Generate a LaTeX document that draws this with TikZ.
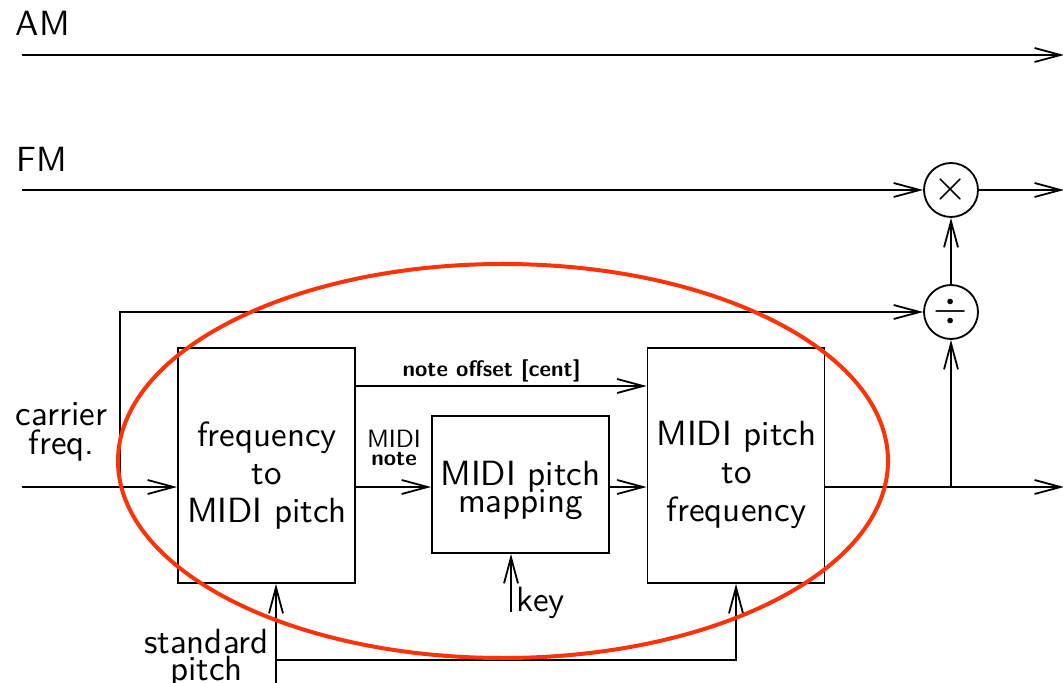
\documentclass[tikz,border=0pt]{standalone}
\usepackage{fix-cm}
\usepackage{fontspec}
\setsansfont{lmsans10-regular}[Extension=.otf, BoldFont=lmsans10-bold]
\usepackage{tikz}
\usetikzlibrary{arrows.meta}
\definecolor{MarkRed}{RGB}{252,50,8}

\tikzset{
  block/.style={draw, inner sep=0pt, minimum width=88.5pt},
  blocktxt/.style={align=center, inner sep=0pt,
    font=\sffamily\fontsize{17.5}{19}\selectfont},
  op/.style={draw, circle, minimum size=27pt, inner sep=0pt,
    font=\fontsize{22}{24}\selectfont},
  biglbl/.style={inner sep=0pt, font=\sffamily\fontsize{17.5}{20}\selectfont},
  sidelbl/.style={align=center, inner sep=0pt,
    font={\sffamily\fontsize{17.5}{14.5}\selectfont\lineskiplimit-20pt}},
  smalllbl/.style={align=center, inner sep=0pt,
    font={\sffamily\bfseries\fontsize{11.2}{9}\selectfont\lineskiplimit-20pt}}
}

\begin{document}
\begin{tikzpicture}[x=0.5pt, y=-0.5pt, line width=0.9pt,
  >={Straight Barb[length=13pt,width=7pt]}]
\useasboundingbox (0,0) rectangle (1063,683);

% AM and FM paths
\node[biglbl, anchor=base west] (amlbl) at (15,36) {AM};
\node[biglbl, anchor=base west] (fmlbl) at (16,172) {FM};
\coordinate (amin) at (22,55);
\coordinate (amout) at (1064,55);
\coordinate (fmin) at (22,190);
\coordinate (fmout) at (1064,190);
\draw[->] (amin) -- (amout);

% Operators
\node[op] (mul) at (951,190) {$\times$};
\node[op] (div) at (951,312) {$\div$};
\draw[->] (fmin) -- (mul);
\draw[->] (mul) -- (fmout);
\draw[->] (div) -- (mul);

% Blocks
\node[block, minimum height=117.5pt] (f2m) at (266.5,465.5) {};
\node[block, minimum height=68.5pt] (map) at (520.5,484.5) {};
\node[block, minimum height=117.5pt] (m2f) at (736,465.5) {};
\node[blocktxt] (f2mtxt) at (267,476) {frequency\\to\\MIDI pitch};
\node[blocktxt, font={\sffamily\fontsize{17.5}{13.5}\selectfont\lineskiplimit-20pt}]
  (maptxt) at (520.5,490) {MIDI pitch\\mapping};
\node[blocktxt] (m2ftxt) at (736.5,475) {MIDI pitch\\to\\frequency};

% Carrier frequency input
\node[sidelbl] (cflbl) at (61.5,432) {carrier\\freq.};
\coordinate (cin) at (22,487);
\coordinate (tap) at (120,487);
\coordinate (cout) at (1064,487);
\draw[->] (cin) -- (cin -| f2m.west);
\draw[->] (tap) |- (div);

% Signal chain
\coordinate (offs) at (355,386);
\draw[->] (offs -| f2m.east) -- (offs -| m2f.west);
\node[smalllbl, anchor=base] (offlbl) at (491.5,377) {note offset [cent]};
\draw[->] (cin -| f2m.east) -- (cin -| map.west);
\node[smalllbl] (notelbl) at (394,448) {{\mdseries\fontsize{12.5}{9}\selectfont MIDI}\\note};
\draw[->] (cin -| map.east) -- (cin -| m2f.west);
\draw[->] (cin -| m2f.east) -- (cout);
\draw[->] (cin -| div) -- (div);

% Key input
\coordinate (key) at (511,612);
\draw[->] (key) -- (key |- map.south);
\node[biglbl, anchor=base west] (keylbl) at (516,611) {key};

% Standard pitch
\coordinate (sp) at (276,690);
\coordinate (spbend) at (276,660);
\draw[->] (sp) -- (sp |- f2m.south);
\draw[->] (spbend) -| (m2f.south);
\node[sidelbl, font={\sffamily\fontsize{17.5}{13.5}\selectfont\lineskiplimit-20pt}]
  (splbl) at (206.5,658) {standard\\pitch};

% Highlight
\draw[MarkRed, line width=2pt] (503,461) ellipse [x radius=385, y radius=197];

\end{tikzpicture}
\end{document}
